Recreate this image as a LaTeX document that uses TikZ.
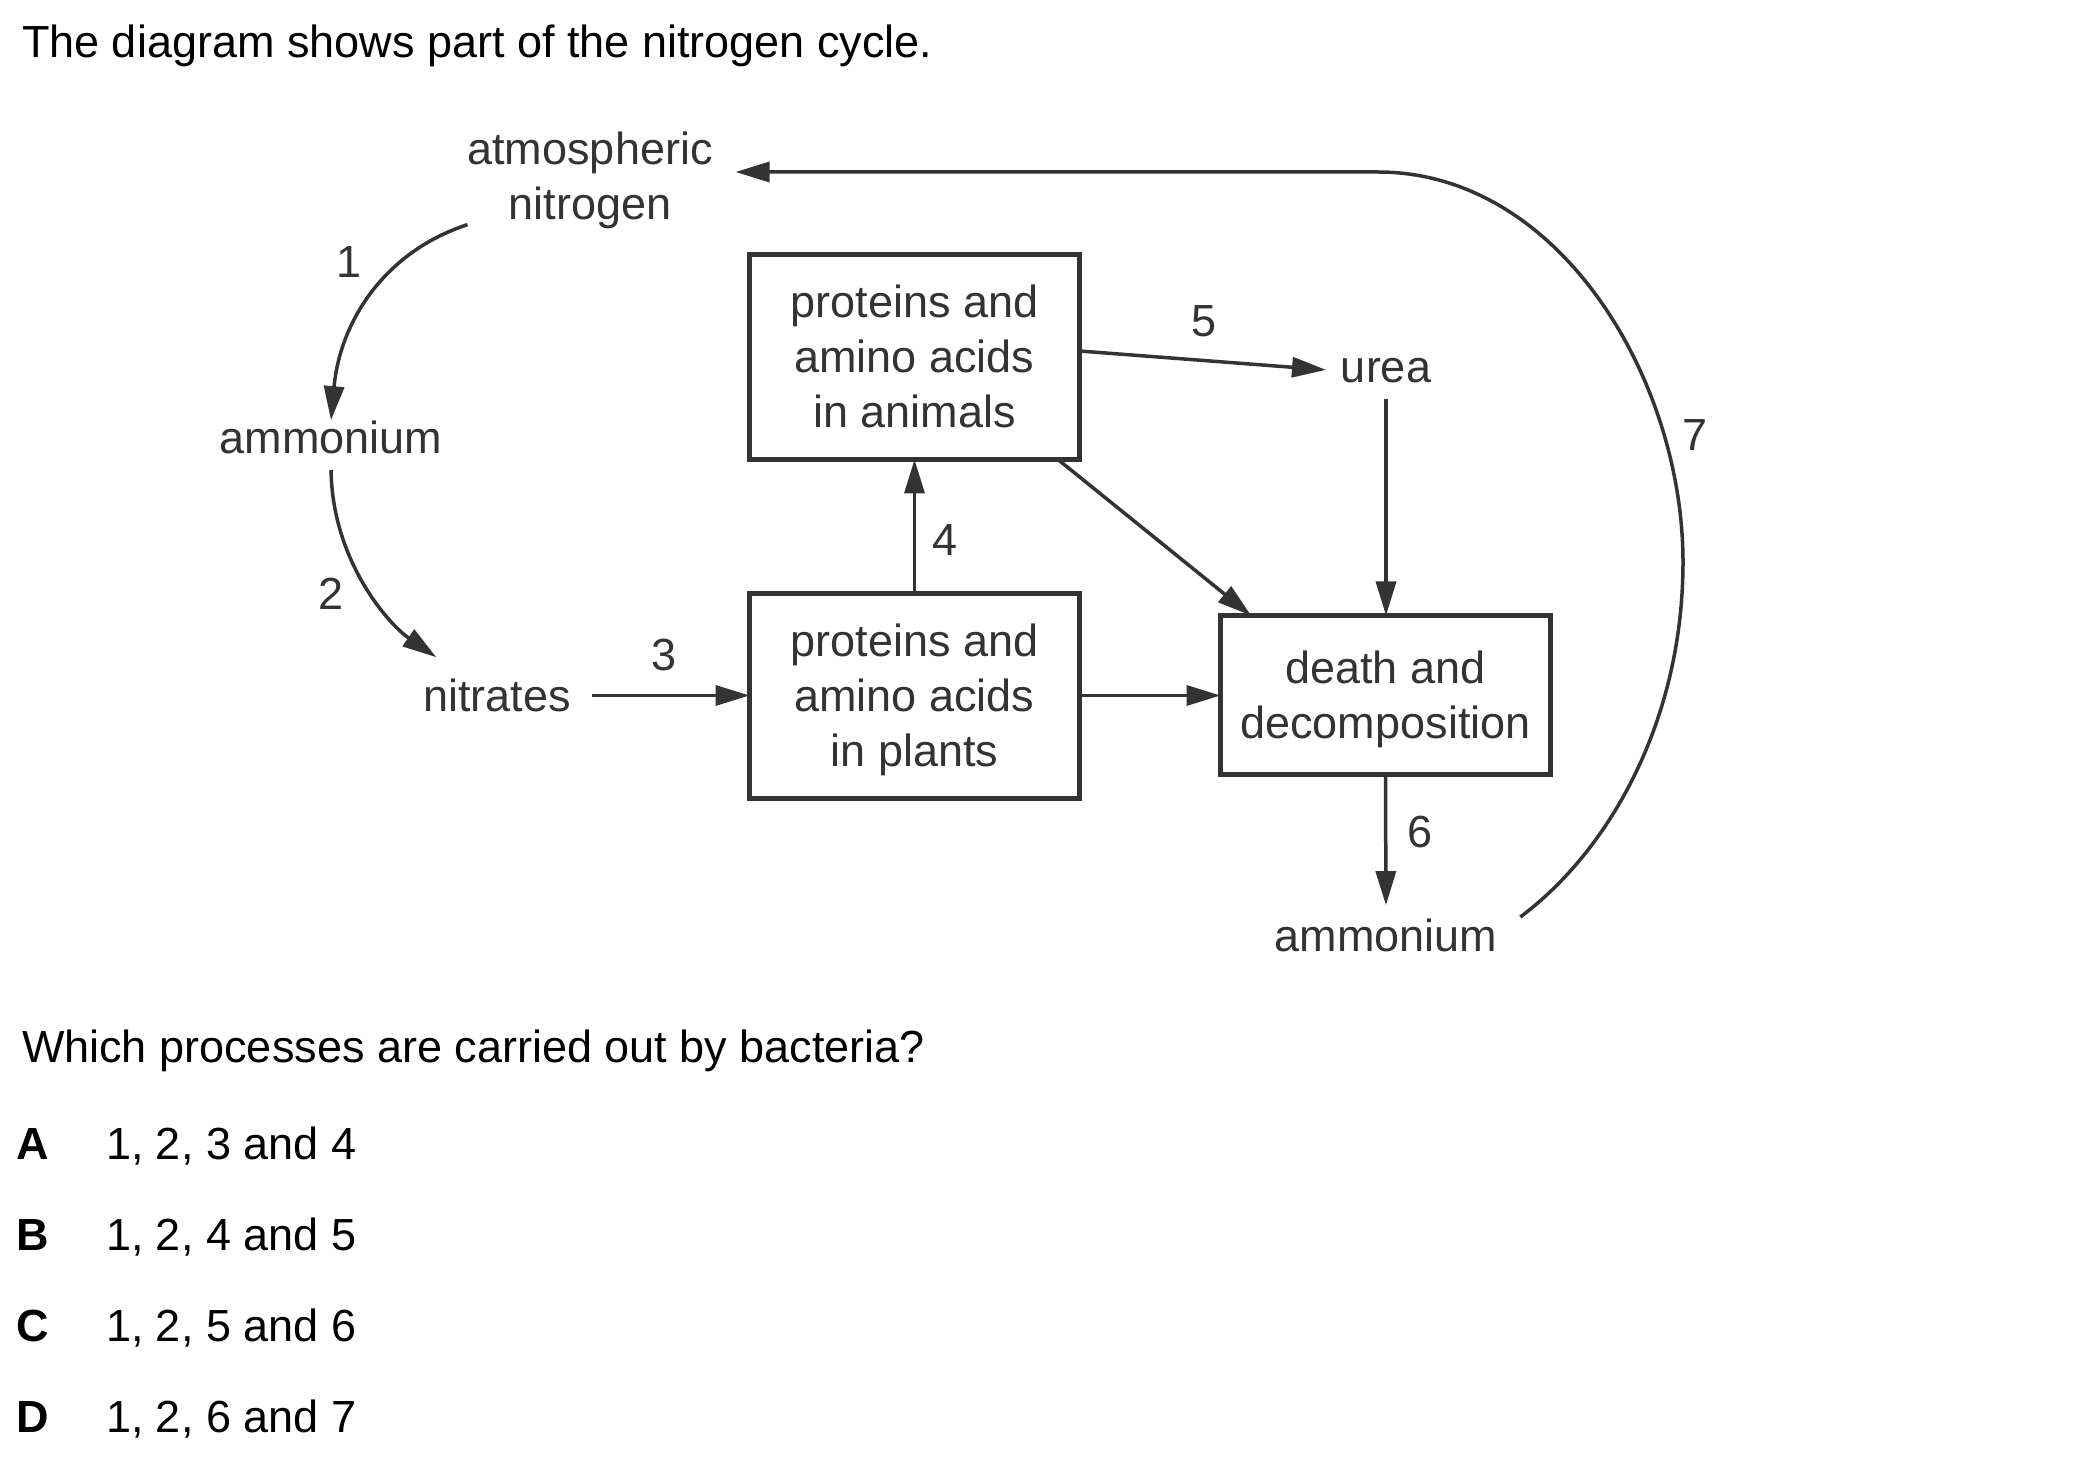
\documentclass[tikz,border=0pt]{standalone}
\usepackage{fontspec}
\setmainfont{Liberation Sans}
\usetikzlibrary{arrows.meta}
\newcommand\sst{\rule[-0.22em]{0pt}{0.97em}}
\newcommand\bst{\rule[-0.22em]{0pt}{1.15em}}
\definecolor{dg}{gray}{0.2}
\begin{document}
\begin{tikzpicture}[x=0.5pt,y=-0.5pt,
  every node/.style={inner sep=0pt, outer sep=0pt, font=\fontsize{22.5pt}{27.5pt}\selectfont},
  lbl/.style={text=dg, align=center},
  boxn/.style={draw=dg, line width=2.5pt, text=dg, align=center, minimum width=165pt},
  arr/.style={draw=dg, line width=1.75pt, -{Triangle[length=17pt,width=10pt]}},
  qtext/.style={anchor=base west, text=black},
]
\useasboundingbox[fill=white] (0,0) rectangle (2100,1460);

% title
\node[qtext] (title) at (22,58) {The diagram shows part of the nitrogen cycle.};

% labels
\node[lbl] (atm) at (590,180) {\sst atmospheric\\\sst nitrogen};
\node[lbl] (amm1) at (331,442) {\sst ammonium};
\node[lbl] (nit) at (497,700) {\sst nitrates};
\node[lbl] (urea) at (1386,371) {\sst urea};
\node[lbl] (amm2) at (1386,940) {\sst ammonium};

% boxes
\node[boxn, minimum height=102.5pt] (ani) at (914.5,357) {\bst proteins and\\\bst amino acids\\\bst in animals};
\node[boxn, minimum height=102.5pt] (pla) at (914.5,695.5) {\bst proteins and\\\bst amino acids\\\bst in plants};
\node[boxn, minimum height=79.5pt] (dec) at (1385.5,695) {\bst death and\\\bst decomposition};

% numbers
\node[lbl] (n1) at (349,266) {\sst 1};
\node[lbl] (n2) at (331,598) {\sst 2};
\node[lbl] (n3) at (664,659) {\sst 3};
\node[lbl] (n4) at (945,544) {\sst 4};
\node[lbl] (n5) at (1204,325) {\sst 5};
\node[lbl] (n6) at (1420,836) {\sst 6};
\node[lbl] (n7) at (1695,439) {\sst 7};

% connectors
\draw[arr] (atm.200) .. controls (384,252) and (340,322) .. (amm1.north);
\draw[arr, shorten <=3pt] (amm1.south) .. controls (332,559) and (387,623) .. ([shift={(13,-21)}]nit.north west);
\draw[arr, shorten <=10.5pt] (nit.east |- pla.west) -- (pla.west);
\draw[arr] (pla) -- (ani);
\draw[arr, shorten >=7.5pt] ([yshift=3pt]ani.east) -- (urea.west);
\draw[arr, shorten <=3pt] (urea.south) -- (urea.south |- dec.north);
\draw[arr] ([xshift=-10.75pt]ani.south east) -- ([xshift=15.25pt]dec.north west);
\draw[arr] (pla.east) -- (pla.east -| dec.west);
\draw[arr, shorten >=6.5pt] (dec.south) -- (amm2.north);
\draw[arr] ([shift={(23,-23)}]amm2.east) .. controls (1610,850) and (1683,720) .. (1683,562)
   .. controls (1683,380) and (1560,172) .. (1378,172) -- ([shift={(23,-8)}]atm.east);

% question
\node[qtext] (q) at (22,1062) {Which processes are carried out by bacteria?};
\node[qtext] (la) at (17,1159) {\bfseries A};
\node[qtext] (ta) at (106,1159) {1, 2, 3 and 4};
\node[qtext] (lb) at (17,1250) {\bfseries B};
\node[qtext] (tb) at (106,1250) {1, 2, 4 and 5};
\node[qtext] (lc) at (17,1341) {\bfseries C};
\node[qtext] (tc) at (106,1341) {1, 2, 5 and 6};
\node[qtext] (ld) at (17,1432) {\bfseries D};
\node[qtext] (td) at (106,1432) {1, 2, 6 and 7};
\end{tikzpicture}
\end{document}
